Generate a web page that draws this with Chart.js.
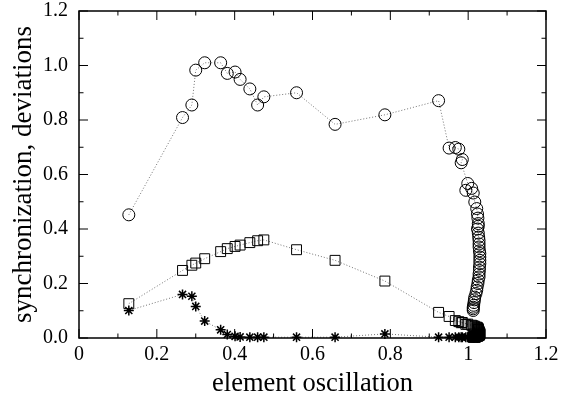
<!DOCTYPE html>
<html>
<head>
<meta charset="utf-8">
<script src="https://cdn.jsdelivr.net/npm/chart.js@4"></script>
<style>
html, body { margin: 0; padding: 0; background: #fff; }
</style>
</head>
<body>
<canvas id="myChart" width="563" height="394"></canvas>
<script>
// element oscillation (shared x for all three curves)
const xVals = [
	0.128, 0.266, 0.290, 0.300, 0.323, 0.364, 0.381, 0.401, 0.414, 0.439, 0.459, 0.475, 0.559, 0.658, 0.786,
	0.924, 0.951, 0.967, 0.976, 0.985, 0.982, 0.999, 0.994, 1.009, 1.013, 1.017, 1.022,
	1.024, 1.025, 1.026, 1.026, 1.024, 1.026, 1.027, 1.028, 1.028, 1.028, 1.029, 1.030, 1.030, 1.030, 1.030,
	1.029, 1.029, 1.028, 1.028, 1.026, 1.025, 1.023, 1.022, 1.020, 1.017, 1.016, 1.015, 1.014, 1.013, 1.013, 1.013
]
// synchronization (circles)
const circleVals = [
	0.452, 0.809, 0.855, 0.983, 1.010, 1.010, 0.971, 0.976, 0.949, 0.914, 0.855, 0.885, 0.900, 0.784, 0.819,
	0.871, 0.697, 0.699, 0.693, 0.655, 0.643, 0.567, 0.542, 0.549, 0.532, 0.499, 0.475,
	0.455, 0.440, 0.420, 0.410, 0.400, 0.385, 0.370, 0.358, 0.345, 0.334, 0.320, 0.310, 0.297, 0.285, 0.273,
	0.260, 0.248, 0.235, 0.224, 0.212, 0.200, 0.187, 0.175, 0.163, 0.150, 0.140, 0.130, 0.120, 0.113, 0.107, 0.101
]
// deviations (squares)
const squareVals = [
	0.126, 0.248, 0.267, 0.275, 0.291, 0.317, 0.328, 0.336, 0.341, 0.350, 0.357, 0.360, 0.324, 0.285, 0.209,
	0.094, 0.079, 0.064, 0.060, 0.057, 0.056, 0.051, 0.050, 0.047, 0.045, 0.043, 0.040,
	0.038, 0.036, 0.034, 0.032, 0.031, 0.029, 0.027, 0.025, 0.023, 0.021, 0.019, 0.018, 0.016, 0.015, 0.013,
	0.012, 0.011, 0.010, 0.009, 0.008, 0.007, 0.007, 0.006, 0.006, 0.005, 0.005, 0.004, 0.004, 0.004, 0.003, 0.003
]
// deviations (stars)
const starVals = [
	0.101, 0.160, 0.153, 0.116, 0.062, 0.030, 0.013, 0.006, 0.004, 0.003, 0.003, 0.003, 0.003, 0.003, 0.015,
	0.003, 0.003, 0.003, 0.003, 0.003, 0.003, 0.003, 0.003, 0.003, 0.003, 0.003, 0.003,
	0.003, 0.003, 0.003, 0.003, 0.003, 0.003, 0.003, 0.003, 0.003, 0.003, 0.003, 0.003, 0.003, 0.003, 0.003,
	0.003, 0.003, 0.003, 0.003, 0.003, 0.003, 0.003, 0.003, 0.003, 0.003, 0.003, 0.003, 0.003, 0.003, 0.003, 0.003
]
const xTickLabels = ['0', '0.2', '0.4', '0.6', '0.8', '1', '1.2']
const yTickLabels = ['0.0', '0.2', '0.4', '0.6', '0.8', '1.0', '1.2']
const minorSteps = [0, 0.1, 0.2, 0.3, 0.4, 0.5, 0.6, 0.7, 0.8, 0.9, 1.0, 1.1, 1.2]

const serif = 'Liberation Serif'

function pts(vals){
	return xVals.map((x, i) => ({x: x, y: vals[i]}))
}

function series(vals, style, radius, width){
	return {
		data: pts(vals),
		showLine: true,
		borderColor: 'rgba(0,0,0,0.55)',
		borderWidth: 1,
		borderDash: [1, 2],
		pointStyle: style,
		pointRadius: radius,
		pointBorderColor: '#000',
		pointBackgroundColor: 'rgba(0,0,0,0)',
		pointBorderWidth: width,
		clip: false
	}
}

// gnuplot style box with inward ticks on all four sides
const frame = {
	id: 'frame',
	beforeDatasetsDraw(chart){
		const {ctx, chartArea: a, scales: {x, y}} = chart
		ctx.save()
		ctx.strokeStyle = '#000'
		ctx.lineWidth = 1
		ctx.beginPath()
		minorSteps.forEach((v, i) => {
			const len = i % 2 == 0 ? 9 : 4.5
			const px = x.getPixelForValue(v)
			const py = y.getPixelForValue(v)
			ctx.moveTo(px, a.bottom); ctx.lineTo(px, a.bottom - len)
			ctx.moveTo(px, a.top); ctx.lineTo(px, a.top + len)
			ctx.moveTo(a.left, py); ctx.lineTo(a.left + len, py)
			ctx.moveTo(a.right, py); ctx.lineTo(a.right - len, py)
		})
		ctx.stroke()
		ctx.lineWidth = 1.5
		ctx.strokeRect(a.left, a.top, a.right - a.left, a.bottom - a.top)
		ctx.restore()
	}
}

const context = document.getElementById('myChart')
const config = {
	type: 'scatter',
	data: {
		datasets: [
			series(circleVals, 'circle', 6, 1),
			series(squareVals, 'rect', 7, 1),
			series(starVals, 'star', 5, 1.5)
		]
	},
	options: {
		responsive: false,
		animation: false,
		layout: {padding: {top: 11, right: 17, bottom: 0, left: 0}},
		plugins: {legend: {display: false}, tooltip: {enabled: false}},
		scales: {
			x: {
				type: 'linear', min: 0, max: 1.2,
				grid: {display: false, drawTicks: false},
				border: {display: false},
				ticks: {
					stepSize: 0.2, padding: 5, color: '#000',
					font: {family: serif, size: 20},
					maxRotation: 0, autoSkip: false,
					callback: (v, i) => xTickLabels[i]
				},
				title: {
					display: true, text: 'element oscillation', color: '#000',
					font: {family: serif, size: 26.5, lineHeight: 1},
					padding: {top: 0, bottom: -3}
				},
				afterFit(s){ s.height = 56; s.paddingLeft = 0; s.paddingRight = 0 }
			},
			y: {
				type: 'linear', min: 0, max: 1.2,
				grid: {display: false, drawTicks: false},
				border: {display: false},
				ticks: {
					stepSize: 0.2, padding: 11, color: '#000',
					font: {family: serif, size: 20},
					autoSkip: false,
					callback: (v, i) => yTickLabels[i]
				},
				title: {
					display: true, text: 'synchronization, deviations', color: '#000',
					font: {family: serif, size: 27, lineHeight: 1},
					padding: {top: 10, bottom: 0}
				},
				afterFit(s){ s.width = 79; s.paddingTop = 0; s.paddingBottom = 0 }
			}
		}
	},
	plugins: [frame]
}
const myChart = new Chart(context, config)
</script>
</body>
</html>
